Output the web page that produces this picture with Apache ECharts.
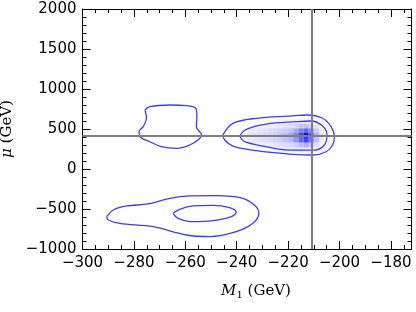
<!DOCTYPE html>
<html><head><meta charset="utf-8">
<script src="https://cdn.jsdelivr.net/npm/echarts@6/dist/echarts.min.js"></script>
<style>html,body{margin:0;padding:0;background:#fff}#c{width:416px;height:312px}</style>
</head><body><div id="c"></div>
<script>
// axis ranges / ticks
const xRange = [-300, -172];
const yRange = [-1000, 2000];
const xTickStep = 20;
const yTickStep = 500;

// crosshair
const crossX = -211;
const crossY = 420;

// contour lines [M1, mu]
const blobLeft = [[-275.7,737],[-273.8,779],[-266.0,800],[-259.6,792],[-256.0,759],[-255.5,675],[-255.7,529],[-253.7,425],[-255.1,362],[-258.3,300],[-263.4,259],[-269.3,279],[-273.8,341],[-277.7,404],[-278.0,466],[-276.4,529],[-275.1,634],[-275.7,737]];
const blobRightOuter = [[-245.4,425],[-241.5,571],[-232.4,634],[-219.5,662],[-212.4,675],[-206.6,634],[-203.3,529],[-202.0,404],[-202.7,300],[-205.2,216],[-210.4,175],[-219.5,187],[-232.4,229],[-241.5,287],[-244.7,362],[-245.4,425]];
const blobRightInner = [[-238.9,412],[-236.3,496],[-228.5,562],[-216.9,591],[-211.1,600],[-206.6,537],[-204.9,425],[-205.9,300],[-209.8,237],[-219.5,237],[-229.8,287],[-236.9,341],[-238.9,412]];
const blobBottomOuter = [[-290.6,-596],[-288.0,-512],[-282.8,-462],[-274.5,-437],[-266.0,-366],[-258.3,-337],[-247.9,-334],[-237.6,-366],[-232.4,-471],[-231.4,-554],[-233.7,-679],[-240.2,-784],[-250.5,-846],[-259.6,-825],[-272.5,-721],[-285.4,-679],[-290.0,-637],[-290.6,-596]];
const blobBottomInner = [[-264.8,-554],[-262.2,-504],[-257.0,-462],[-249.2,-454],[-242.8,-484],[-240.2,-541],[-242.1,-596],[-249.2,-646],[-257.0,-659],[-262.8,-616],[-264.8,-554]];

// density histogram: bin centers and intensities (rows = mu bins)
const heatX = [-235,-233,-231,-229,-227,-225,-223,-221,-219,-217,-215,-213,-211,-209,-207];
const heatY = [240,300,360,420,480,540,600];
const heatZ = [
  [0,0.02,0.02,0.03,0.03,0.04,0.05,0.06,0.07,0.08,0.1,0.1,0.08,0.05,0],
  [0.03,0.05,0.06,0.07,0.08,0.1,0.12,0.14,0.16,0.2,0.28,0.32,0.25,0.12,0.04],
  [0.08,0.1,0.12,0.14,0.16,0.18,0.2,0.24,0.3,0.42,0.6,0.75,0.55,0.25,0.08],
  [0.1,0.12,0.14,0.16,0.18,0.2,0.24,0.28,0.35,0.5,0.75,0.95,0.7,0.3,0.1],
  [0.06,0.08,0.1,0.12,0.14,0.16,0.18,0.2,0.25,0.35,0.5,0.6,0.45,0.2,0.06],
  [0.02,0.04,0.05,0.06,0.07,0.08,0.1,0.12,0.14,0.16,0.22,0.25,0.2,0.1,0.03],
  [0,0,0.02,0.02,0.03,0.03,0.04,0.05,0.05,0.06,0.07,0.07,0.06,0.04,0]
];

const heatData = [];
heatY.forEach((y, j) => heatX.forEach((x, i) => { if (heatZ[j][i] > 0) heatData.push([x, y, heatZ[j][i]]); }));
const dx = heatX[1] - heatX[0], dy = heatY[1] - heatY[0];

const minus = s => String(s).replace('-', '\u2212');
const tickFont = {fontFamily: 'DejaVu Sans', fontSize: 15, color: '#000'};
const lineC = '#3c3cff';

function baseAxis(extra) {
  return Object.assign({
    type: 'value',
    axisLine: {show: true, onZero: false, lineStyle: {color: '#000', width: 1}},
    axisTick: {show: true, inside: true, length: 8, lineStyle: {color: '#000'}},
    minorTick: {show: true, length: 4, lineStyle: {color: '#000'}},
    splitLine: {show: false},
    minorSplitLine: {show: false}
  }, extra);
}

const contourSeries = [blobLeft, blobRightOuter, blobRightInner, blobBottomOuter, blobBottomInner].map(d => ({
  type: 'line', data: d, smooth: 0.35, symbol: 'none', z: 3,
  lineStyle: {color: lineC, width: 1.3}
}));

const chart = echarts.init(document.getElementById('c'), null, {renderer: 'canvas'});
chart.setOption({
  animation: false,
  grid: {left: 82.5, right: 4.5, top: 9, bottom: 63, show: false, containLabel: false, outerBoundsMode: 'none'},
  xAxis: [
    baseAxis({min: xRange[0], max: xRange[1], interval: xTickStep, position: 'bottom',
      minorTick: {show: true, splitNumber: 4, length: 4, lineStyle: {color: '#000'}},
      axisLabel: Object.assign({margin: 7, showMaxLabel: false, formatter: v => (v % xTickStep === 0 ? minus(v) : '')}, tickFont),
      name: '{i|M}{s|1}{n| (GeV)}', nameLocation: 'middle', nameGap: 33,
      nameTextStyle: {padding: [0, 0, 0, 18], rich: {
        i: {fontFamily: 'DejaVu Serif', fontStyle: 'italic', fontSize: 15, color: '#000'},
        s: {fontFamily: 'DejaVu Serif', fontSize: 10, color: '#000', padding: [8, 0, 0, 0]},
        n: {fontFamily: 'DejaVu Serif', fontSize: 15, color: '#000'}
      }}
    }),
    baseAxis({min: xRange[0], max: xRange[1], interval: xTickStep, position: 'top',
      minorTick: {show: true, splitNumber: 4, length: 4, lineStyle: {color: '#000'}},
      axisLabel: {show: false}})
  ],
  yAxis: [
    baseAxis({min: yRange[0], max: yRange[1], interval: yTickStep, position: 'left',
      minorTick: {show: true, splitNumber: 5, length: 4, lineStyle: {color: '#000'}},
      axisLabel: Object.assign({margin: 6, formatter: v => minus(v)}, tickFont),
      name: '{i|\u03bc}{n| (GeV)}', nameLocation: 'middle', nameGap: 62, nameRotate: 90,
      nameTextStyle: {rich: {
        i: {fontFamily: 'DejaVu Serif', fontStyle: 'italic', fontSize: 15, color: '#000'},
        n: {fontFamily: 'DejaVu Serif', fontSize: 15, color: '#000'}
      }}
    }),
    baseAxis({min: yRange[0], max: yRange[1], interval: yTickStep, position: 'right',
      minorTick: {show: true, splitNumber: 5, length: 4, lineStyle: {color: '#000'}},
      axisLabel: {show: false}})
  ],
  series: [
    {
      type: 'custom', z: 1, clip: true, data: heatData,
      renderItem: (params, api) => {
        const x = api.value(0), y = api.value(1), v = api.value(2);
        const p0 = api.coord([x - dx / 2, y + dy / 2]);
        const p1 = api.coord([x + dx / 2, y - dy / 2]);
        const c = Math.round(255 * (1 - v));
        return {type: 'rect', shape: {x: p0[0], y: p0[1], width: p1[0] - p0[0], height: p1[1] - p0[1]},
          style: {fill: `rgb(${c},${c},255)`}};
      }
    },
    ...contourSeries,
    {
      type: 'line', data: [], z: 5,
      markLine: {silent: true, symbol: 'none', animation: false,
        label: {show: false},
        lineStyle: {color: '#808080', width: 2, type: 'solid'},
        data: [{xAxis: crossX}, {yAxis: crossY}]}
    }
  ]
});
</script></body></html>
